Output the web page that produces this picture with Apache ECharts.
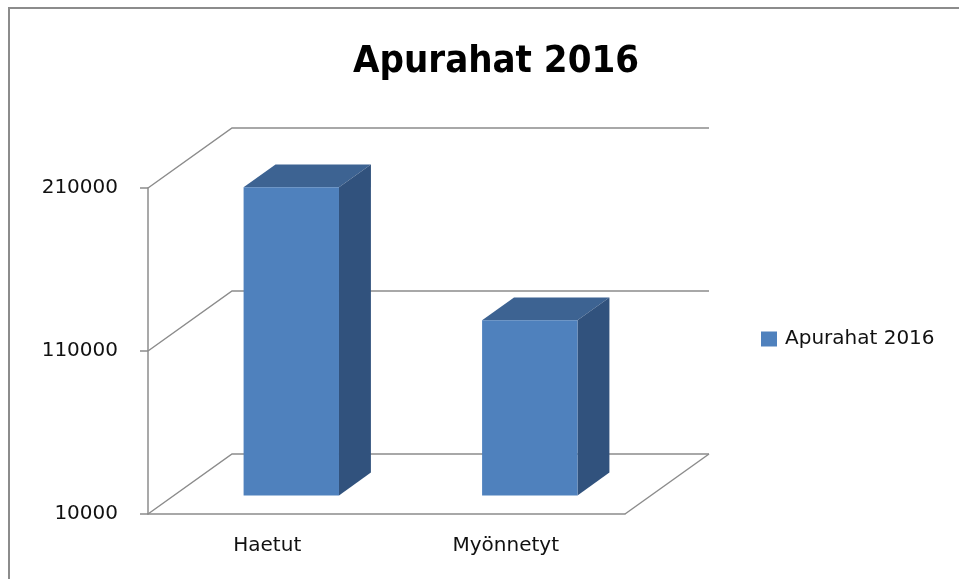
<!DOCTYPE html>
<html>
<head>
<meta charset="utf-8">
<script src="https://cdn.jsdelivr.net/npm/echarts@6/dist/echarts.min.js"></script>
<style>
  html, body { margin: 0; padding: 0; background: #fff; }
  #chart { width: 959px; height: 579px; }
</style>
</head>
<body>
<div id="chart"></div>
<script>
// data
var categories = ["Haetut", "Myönnetyt"];
var seriesName = "Apurahat 2016";
var values = [199000, 117500];
var yTicks = [10000, 110000, 210000];

// 3d look (oblique offset of the back wall, bar depth)
var DX = 84, DY = -60;
var DEPTH_FRONT = 0.31, DEPTH_BACK = 0.69;
var FRONT = "#4F81BD", TOP = "#3D6392", SIDE = "#31527D";
var GRID_COLOR = "#8c8c8c";

var chart = echarts.init(document.getElementById("chart"));

// back wall gridlines, left wall and floor
function renderWalls(params, api) {
  var v = api.value(1);
  var band = api.size([1, 0])[0];
  var left = api.coord([0, v]);
  var right = api.coord([categories.length - 1, v]);
  var xl = left[0] - band / 2, xr = right[0] + band / 2, y = left[1];
  var children = [
    {
      type: "polyline",
      shape: { points: [[xl, y], [xl + DX, y + DY], [xr + DX, y + DY]] },
      style: { stroke: GRID_COLOR, lineWidth: 1.5, fill: null }
    }
  ];
  if (v === yTicks[0]) {
    children.push({
      type: "line",
      shape: { x1: xr, y1: y, x2: xr + DX, y2: y + DY },
      style: { stroke: GRID_COLOR, lineWidth: 1.5 }
    });
  }
  return { type: "group", children: children };
}

// 3d bars
function renderBar(params, api) {
  var idx = api.value(0), v = api.value(1);
  var band = api.size([1, 0])[0];
  var base = api.coord([idx, yTicks[0]]);
  var top = api.coord([idx, v]);
  var w = band * 0.4;
  var x0 = base[0] - w / 2 + DX * DEPTH_FRONT - 2, x1 = x0 + w;
  var yb = base[1] + DY * DEPTH_FRONT, yt = top[1] + DY * DEPTH_FRONT;
  var ox = DX * (DEPTH_BACK - DEPTH_FRONT), oy = DY * (DEPTH_BACK - DEPTH_FRONT);
  return {
    type: "group",
    children: [
      { type: "polygon", shape: { points: [[x0, yt], [x1, yt], [x1 + ox, yt + oy], [x0 + ox, yt + oy]] }, style: { fill: TOP } },
      { type: "polygon", shape: { points: [[x1, yt], [x1, yb], [x1 + ox, yb + oy], [x1 + ox, yt + oy]] }, style: { fill: SIDE } },
      { type: "rect", shape: { x: x0, y: yt, width: w, height: yb - yt }, style: { fill: FRONT } }
    ]
  };
}

var option = {
  animation: false,
  title: {
    text: seriesName,
    left: 491,
    top: 38,
    textAlign: "center",
    textStyle: {
      fontFamily: "'Liberation Sans Narrow', 'DejaVu Sans Condensed', sans-serif",
      fontSize: 38,
      fontWeight: "bold",
      color: "#000"
    }
  },
  graphic: [
    {
      type: "rect",
      shape: { x: 9, y: 8, width: 1000, height: 1000 },
      style: { fill: null, stroke: "#8c8c8c", lineWidth: 2 },
      z: -10
    }
  ],
  legend: {
    data: [seriesName],
    left: 756,
    top: 324,
    icon: "rect",
    itemWidth: 16,
    itemHeight: 15,
    textStyle: { fontFamily: "DejaVu Sans", fontSize: 20, color: "#111", padding: [0, 0, 0, 3] }
  },
  grid: { left: 148, right: 334, top: 188, bottom: 65 },
  xAxis: {
    type: "category",
    data: categories,
    axisLine: { lineStyle: { color: GRID_COLOR, width: 1.5 } },
    axisTick: { length: 6, lineStyle: { color: GRID_COLOR, width: 1.5 } },
    axisLabel: { margin: 22, fontFamily: "DejaVu Sans", fontSize: 20, color: "#111" },
    splitLine: { show: false }
  },
  yAxis: {
    type: "value",
    min: yTicks[0],
    max: yTicks[yTicks.length - 1],
    interval: yTicks[1] - yTicks[0],
    axisLine: { show: true, lineStyle: { color: GRID_COLOR, width: 1.5 } },
    axisTick: { show: true, length: 8, lineStyle: { color: GRID_COLOR, width: 1.5 } },
    axisLabel: {
      margin: 30,
      fontFamily: "DejaVu Sans",
      fontSize: 20,
      color: "#111",
      formatter: function (v) { return String(v); }
    },
    splitLine: { show: false }
  },
  series: [
    {
      name: "walls",
      type: "custom",
      silent: true,
      renderItem: renderWalls,
      data: yTicks.map(function (t) { return [0, t]; }),
      z: 1
    },
    {
      name: seriesName,
      type: "custom",
      renderItem: renderBar,
      itemStyle: { color: FRONT },
      data: values.map(function (v, i) { return [i, v]; }),
      z: 2
    }
  ]
};

chart.setOption(option);
</script>
</body>
</html>
